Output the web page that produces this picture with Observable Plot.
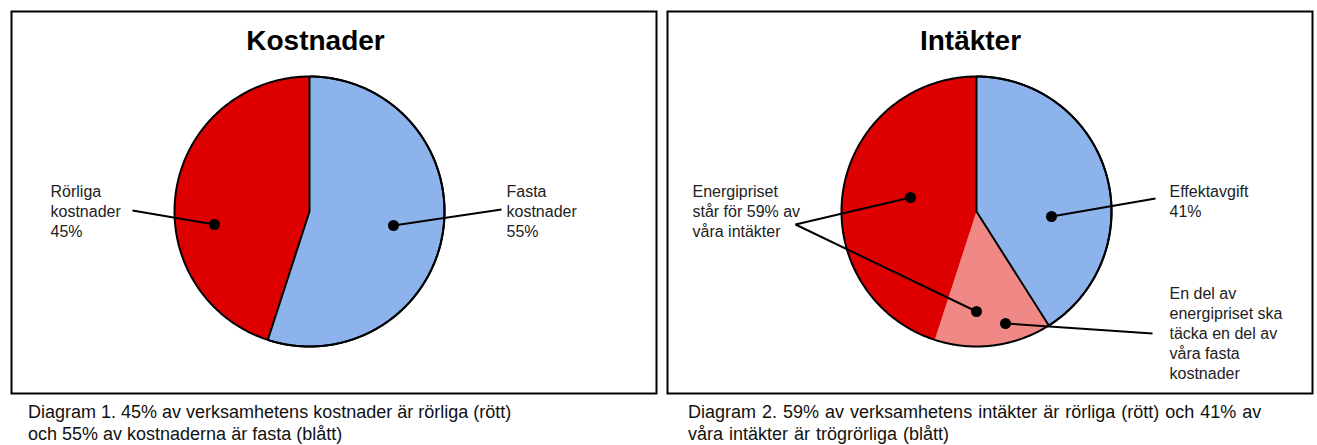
<!DOCTYPE html>
<html>
<head>
<meta charset="utf-8">
<script src="https://cdn.jsdelivr.net/npm/d3@7"></script>
<script src="https://cdn.jsdelivr.net/npm/@observablehq/plot@0.6"></script>
<style>
  html, body { margin: 0; padding: 0; background: #fff; }
  body { width: 1317px; height: 445px; position: relative; overflow: hidden;
         font-family: "Liberation Sans", Arial, sans-serif; }
  .panel { position: absolute; top: 10px; }
  .caption { position: absolute; top: 401px; font-size: 18px; line-height: 22px; color: #111; }
</style>
</head>
<body>
<div id="p1" class="panel" style="left:10px"></div>
<div id="p2" class="panel" style="left:666px"></div>
<div class="caption" style="left:28px">Diagram 1. 45% av verksamhetens kostnader är rörliga (rött)<br>och 55% av kostnaderna är fasta (blått)</div>
<div class="caption" style="left:688px; word-spacing:1px">Diagram 2. 59% av verksamhetens intäkter är rörliga (rött) och 41% av<br>våra intäkter är trögrörliga (blått)</div>
<script>
// ---- data ----
const costTitle = "Kostnader";
const costCategories = ["Fasta kostnader", "Rörliga kostnader"];
const costValues = [55, 45];
const costColors = ["#8db3ec", "#de0000"];
const costLabels = ["Rörliga\nkostnader\n45%", "Fasta\nkostnader\n55%"];

const incomeTitle = "Intäkter";
const incomeCategories = ["Effektavgift", "Energipris som täcker fasta kostnader", "Energipris"];
const incomeValues = [41, 14, 45];
const incomeColors = ["#8db3ec", "#f08986", "#de0000"];
const incomeLabels = ["Energipriset\nstår för 59% av\nvåra intäkter", "Effektavgift\n41%",
  "En del av\nenergipriset ska\ntäcka en del av\nvåra fasta\nkostnader"];

// ---- layout (pixel offsets from the pie centre) ----
const W = 647, H = 384, R = 135;
const layout1 = {
  cx: 299, cy: 201, titleDx: 6,
  outlined: ["Fasta kostnader"],
  labels: [{dx: -259, dy: -29}, {dx: 197, dy: -29}],
  links: [{x1: -177, y1: -1, x2: -95, y2: 13}, {x1: 192, y1: -2, x2: 84, y2: 14}]
};
const layout2 = {
  cx: 310, cy: 201, titleDx: -6,
  outlined: ["Effektavgift"],
  labels: [{dx: -284, dy: -29}, {dx: 193, dy: -29}, {dx: 193, dy: 73}],
  links: [{x1: -181, y1: 13, x2: -66, y2: -14}, {x1: -181, y1: 13, x2: 0, y2: 100},
          {x1: 179, y1: -13, x2: 75, y2: 5}, {x1: 176, y1: 122, x2: 29, y2: 112}]
};

function wedgePoints(names, values) {
  const arcs = d3.pie().sort(null).value(d => d)(values);
  const pts = [];
  arcs.forEach((a, i) => {
    const name = names[i];
    pts.push({name, x: 0, y: 0});
    const n = Math.max(2, Math.ceil((a.endAngle - a.startAngle) / 0.01));
    for (let k = 0; k <= n; ++k) {
      const t = a.startAngle + (a.endAngle - a.startAngle) * k / n;
      pts.push({name, x: R * Math.sin(t), y: -R * Math.cos(t)});
    }
    pts.push({name, x: 0, y: 0});
  });
  return pts;
}
function circlePoints() {
  return d3.range(0, 361).map(k => ({x: R * Math.sin(k * Math.PI / 180), y: -R * Math.cos(k * Math.PI / 180)}));
}

function pie(title, names, values, colors, labels, L) {
  const pts = wedgePoints(names, values);
  const labelData = labels.map((t, i) => ({text: t, x: L.labels[i].dx, y: L.labels[i].dy}));
  return Plot.plot({
    width: W, height: H,
    margin: 0,
    x: {domain: [-L.cx, W - L.cx], range: [0, W], axis: null},
    y: {domain: [-L.cy, H - L.cy], range: [0, H], axis: null},
    color: {domain: names, range: colors},
    style: {fontFamily: "'Liberation Sans', Arial, sans-serif", background: "transparent", overflow: "visible"},
    marks: [
      Plot.line(pts, {x: "x", y: "y", z: "name", fill: "name", stroke: "none"}),
      Plot.line(pts.filter(d => L.outlined.includes(d.name)), {x: "x", y: "y", z: "name", stroke: "black", strokeWidth: 2, fill: "none", strokeLinejoin: "miter"}),
      Plot.line(circlePoints(), {x: "x", y: "y", stroke: "black", strokeWidth: 2, fill: "none"}),
      Plot.link(L.links, {x1: "x1", y1: "y1", x2: "x2", y2: "y2", stroke: "black", strokeWidth: 2}),
      Plot.dot(L.links, {x: "x2", y: "y2", r: 5.5, fill: "black", stroke: "none"}),
      Plot.text(labelData, {x: "x", y: "y", text: "text", textAnchor: "start", lineAnchor: "top",
        fontSize: 16, lineHeight: 1.25, fill: "#222"}),
      Plot.text([title], {x: () => L.titleDx, y: () => -L.cy + 20, text: d => d, textAnchor: "middle",
        lineAnchor: "top", fontSize: 28, fontWeight: "bold", fill: "black"}),
      Plot.frame({stroke: "black", strokeWidth: 2, inset: 1})
    ]
  });
}

document.getElementById("p1").append(pie(costTitle, costCategories, costValues, costColors, costLabels, layout1));
document.getElementById("p2").append(pie(incomeTitle, incomeCategories, incomeValues, incomeColors, incomeLabels, layout2));
</script>
</body>
</html>
